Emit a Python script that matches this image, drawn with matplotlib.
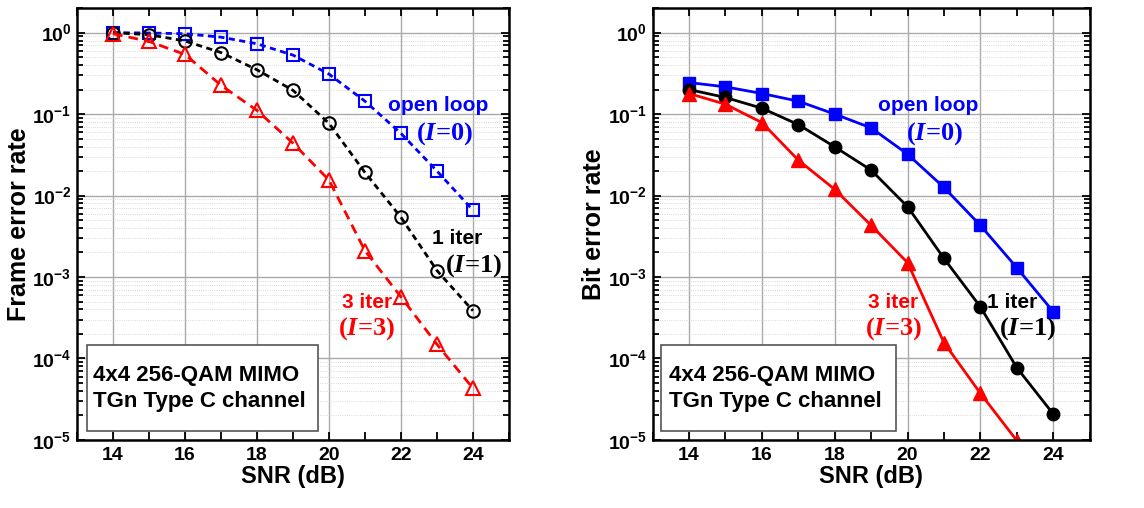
import numpy as np
import matplotlib
matplotlib.use("Agg")
import matplotlib.pyplot as plt
from matplotlib.patches import Rectangle
from matplotlib.ticker import LogLocator, MultipleLocator, NullFormatter

plt.rcParams['font.family'] = ['Liberation Sans', 'DejaVu Sans']
plt.rcParams['font.weight'] = 'bold'
plt.rcParams['axes.unicode_minus'] = False
plt.rcParams['mathtext.fontset'] = 'custom'
plt.rcParams['mathtext.it'] = 'Liberation Serif:italic:bold'
plt.rcParams['mathtext.rm'] = 'Liberation Serif:bold'

# data
snr = [14, 15, 16, 17, 18, 19, 20, 21, 22, 23, 24]

fer_open = [1.0, 0.99, 0.97, 0.88, 0.73, 0.53, 0.31, 0.144, 0.058, 0.020, 0.0066]
fer_1it = [1.0, 0.945, 0.79, 0.57, 0.35, 0.196, 0.077, 0.0192, 0.0054, 0.0012, 3.85e-4]
fer_3it = [0.97, 0.78, 0.54, 0.226, 0.111, 0.044, 0.0155, 0.0021, 5.7e-4, 1.49e-4, 4.3e-5]

ber_open = [0.244, 0.216, 0.179, 0.144, 0.10, 0.0677, 0.0322, 0.01256, 0.0043, 0.0013, 3.75e-4]
ber_1it = [0.20, 0.16, 0.118, 0.0744, 0.0396, 0.0205, 0.0073, 0.00169, 4.3e-4, 7.7e-5, 2.08e-5]
ber_3it = [0.179, 0.132, 0.0787, 0.0272, 0.0119, 0.0043, 0.0015, 1.56e-4, 3.73e-5, 9.8e-6]

box_text = "4x4 256-QAM MIMO\nTGn Type C channel"

fig = plt.figure(figsize=(11.44, 5.08), dpi=100)
ax1 = fig.add_axes([0.0673, 0.134, 0.3776, 0.850])
ax2 = fig.add_axes([0.5705, 0.134, 0.382, 0.850])


def style(ax, ylabel):
    ax.set_yscale('log')
    ax.set_xlim(13, 25)
    ax.set_ylim(1e-5, 2)
    ax.xaxis.set_major_locator(MultipleLocator(2))
    ax.xaxis.set_minor_locator(MultipleLocator(1))
    ax.yaxis.set_major_locator(LogLocator(base=10, numticks=10))
    ax.yaxis.set_minor_locator(LogLocator(base=10, subs=np.arange(2, 10), numticks=20))
    ax.yaxis.set_minor_formatter(NullFormatter())
    ax.grid(which='major', color='#aaaaaa', lw=1.0)
    ax.grid(which='minor', axis='y', color='#cccccc', lw=0.6, ls=':')
    ax.tick_params(which='both', direction='in', top=True, right=True, width=1.3)
    ax.tick_params(which='major', length=6, labelsize=14, pad=5)
    ax.tick_params(axis='y', which='major', pad=4)
    ax.tick_params(which='minor', length=4)
    ax.tick_params(axis='x', which='minor', length=6)
    for s in ax.spines.values():
        s.set_linewidth(1.8)
    for lab in ax.get_xticklabels() + ax.get_yticklabels():
        lab.set_fontweight('bold')
    ax.set_xlabel('SNR (dB)', fontsize=17, fontweight='bold', labelpad=1)
    ax.set_ylabel(ylabel, fontsize=18, fontweight='bold', va='center')
    ax.yaxis.set_label_coords(-0.135, 0.5)
    ax.set_axisbelow(True)


def note_box(ax, x0, x1, tx):
    ax.add_patch(Rectangle((x0, 0.021), x1 - x0, 0.199, transform=ax.transAxes,
                           fc='white', ec='#555555', lw=1.2, zorder=4))
    ax.text(tx, 0.12, box_text, transform=ax.transAxes, fontsize=16, va='center',
            ha='left', linespacing=1.3, zorder=5)


# left panel: frame error rate
ax1.plot(snr, fer_open, color='blue', ls=(0, (2.2, 1.6)), lw=2, marker='s', ms=8,
         mfc='none', mew=1.5)
ax1.plot(snr, fer_1it, color='black', ls=(0, (2.2, 1.6)), lw=2, marker='o', ms=9,
         mfc='none', mew=1.5)
ax1.plot(snr, fer_3it, color='red', ls=(0, (3.5, 2.2)), lw=2, marker='^', ms=10,
         mfc='none', mew=1.5)
style(ax1, 'Frame error rate')
ax1.text(23.03, 0.127, 'open loop', color='blue', fontsize=15, ha='center', va='center')
ax1.text(23.2, 0.058, '($I$=0)', color='blue', fontsize=19, ha='center', va='center',
         family='Liberation Serif')
ax1.text(23.56, 0.003, '1 iter', color='black', fontsize=15, ha='center', va='center')
ax1.text(24.0, 0.0014, '($I$=1)', color='black', fontsize=19, ha='center', va='center',
         family='Liberation Serif')
ax1.text(21.05, 4.9e-4, '3 iter', color='red', fontsize=15, ha='center', va='center')
ax1.text(21.05, 2.35e-4, '($I$=3)', color='red', fontsize=19, ha='center', va='center',
         family='Liberation Serif')
note_box(ax1, 0.023, 0.558, 0.037)

# right panel: bit error rate
ax2.plot(snr, ber_open, color='blue', lw=2, marker='s', ms=8)
ax2.plot(snr, ber_1it, color='black', lw=2, marker='o', ms=9)
ax2.plot(snr[:len(ber_3it)], ber_3it, color='red', lw=2, marker='^', ms=10)
style(ax2, 'Bit error rate')
ax2.text(20.56, 0.127, 'open loop', color='blue', fontsize=15, ha='center', va='center')
ax2.text(20.73, 0.058, '($I$=0)', color='blue', fontsize=19, ha='center', va='center',
         family='Liberation Serif')
ax2.text(22.87, 4.8e-4, '1 iter', color='black', fontsize=15, ha='center', va='center')
ax2.text(23.3, 2.35e-4, '($I$=1)', color='black', fontsize=19, ha='center', va='center',
         family='Liberation Serif')
ax2.text(19.6, 4.9e-4, '3 iter', color='red', fontsize=15, ha='center', va='center')
ax2.text(19.6, 2.35e-4, '($I$=3)', color='red', fontsize=19, ha='center', va='center',
         family='Liberation Serif')
note_box(ax2, 0.019, 0.557, 0.037)

fig.savefig('out.png', dpi=100)
